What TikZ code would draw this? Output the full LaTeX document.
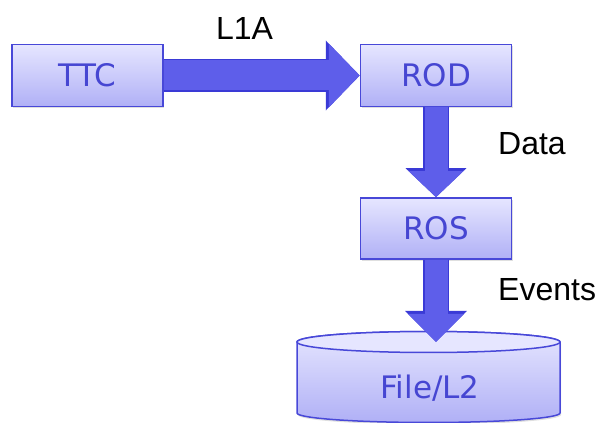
\documentclass[tikz,border=0pt]{standalone}
\usepackage{fontspec}
\setmainfont{DejaVu Sans}
\newfontfamily\lblfont{Liberation Sans}
\usetikzlibrary{arrows.meta,positioning,shadows}

\definecolor{boxtop}{HTML}{E6E6FF}
\definecolor{boxbot}{HTML}{B0B0F6}
\definecolor{boxline}{HTML}{4848D8}
\definecolor{boxtext}{HTML}{4646D2}
\definecolor{fatblue}{HTML}{5E5EEA}
\definecolor{fatline}{HTML}{3A3AD6}

\begin{document}
\begin{tikzpicture}[x=1pt,y=1pt,node distance=348.5pt,
  block/.style={draw=boxline,line width=1.5pt,top color=boxtop,bottom color=boxbot,
    minimum width=151pt,minimum height=62pt,inner sep=0pt,text=boxtext,
    font=\fontsize{31}{36}\selectfont,
    drop shadow={opacity=0.25,shadow xshift=1pt,shadow yshift=-2pt}},
  lbl/.style={font=\lblfont\fontsize{32}{36}\selectfont,inner sep=0pt},
  fatedge/.style={draw=fatline,line width=#1},
  fat/.style={draw=fatblue,line width=#1}]

\useasboundingbox (0,0) rectangle (600,423);

\node[block]   (ttc) at (87.5,347.5)   {TTC};
 \node[block]  (rod) [right of=ttc]    {ROD};
	\node[block,minimum height=61pt]  (ros) [below of=rod,node distance=153pt] {ROS};
\coordinate (diskin) at (436,81);

% disk
\shadedraw[draw=boxline,line width=1.5pt,top color=boxtop,bottom color=boxbot,
  drop shadow={opacity=0.25,shadow xshift=1pt,shadow yshift=-2pt}]
  (297,81) -- (297,10) arc[start angle=180,end angle=360,x radius=131.5,y radius=9.5]
  -- (560,81) arc[start angle=0,end angle=180,x radius=131.5,y radius=10.5] -- cycle;
\filldraw[draw=boxline,line width=1.5pt,fill=boxtop] (428.5,81) ellipse[x radius=131.5,y radius=10.5];
\node[text=boxtext,font=\fontsize{31}{36}\selectfont] (file) at (430,35) {File/L2};

% fat arrows, edge first
\draw[fatedge=33pt,-{Triangle[length=34pt,width=68pt]}] (ttc) -- (rod);
\draw[fat=30pt,-{Triangle[length=31pt,width=62pt]}] (ttc) -- (rod);
\draw[fatedge=26pt,-{Triangle[length=29pt,width=59pt]}] (rod) -- (ros);
\draw[fat=23pt,-{Triangle[length=26pt,width=53pt]}] (rod) -- (ros);
\draw[fatedge=26pt,-{Triangle[length=31pt,width=60pt]}] (ros) -- (diskin);
\draw[fat=23pt,-{Triangle[length=28pt,width=54pt]}] (ros) -- (diskin);

\node[lbl] (l1a) at (244.5,395) {L1A};
\node[lbl,anchor=west] (data) at (498,279) {Data};
\node[lbl,anchor=west] (events) at (498,133) {Events};

\end{tikzpicture}
\end{document}
